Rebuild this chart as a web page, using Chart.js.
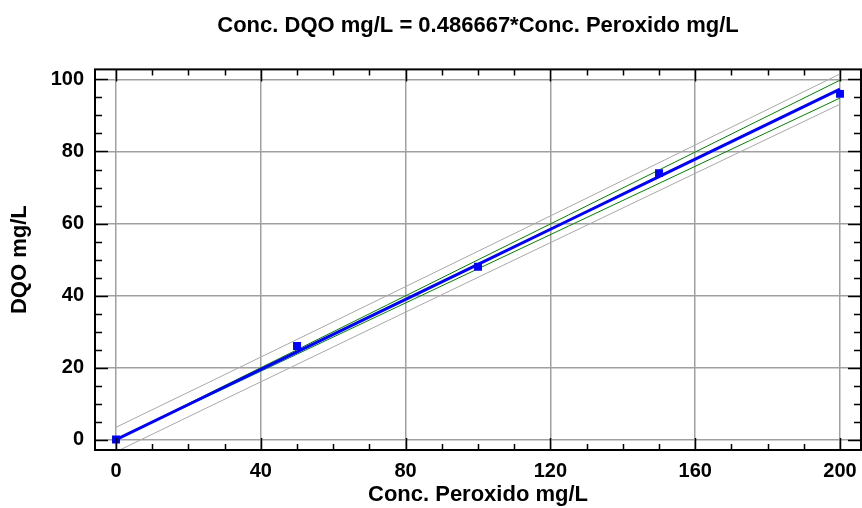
<!DOCTYPE html>
<html>
<head>
<meta charset="utf-8">
<script src="https://cdn.jsdelivr.net/npm/chart.js@4"></script>
<style>
html,body{margin:0;padding:0;background:#fff;}
#wrap{width:862px;height:508px;}
</style>
</head>
<body>
<div id="wrap"><canvas id="c" width="862" height="508"></canvas></div>
<script>
// Observed data
const obsX = [0, 50, 100, 150, 200];
const obsY = [0, 26, 48, 74, 96];
// Curves
const curveX = [0, 25, 50, 75, 100, 125, 150, 175, 200];
const fitY = [0, 12.17, 24.33, 36.5, 48.67, 60.83, 73, 85.17, 97.33];
const confUpper = [0, 12.48, 24.95, 37.43, 49.91, 62.38, 74.86, 87.34, 99.81];
const confLower = [0, 11.86, 23.71, 35.57, 47.43, 59.28, 71.14, 83.0, 94.85];
const predUpper = [3.40, 15.58, 27.79, 40.03, 52.29, 64.57, 76.88, 89.21, 101.54];
const predLower = [-3.40, 8.76, 20.87, 32.98, 45.05, 57.09, 69.12, 81.14, 93.12];
// Tick labels
const xTicks = [0, 40, 80, 120, 160, 200];
const yTicks = [0, 20, 40, 60, 80, 100];
const xMinorStep = 10;
const yMinorStep = 5;

const toPts = (xs, ys) => xs.map((x, i) => ({x: x, y: ys[i]}));
const FONT = "'Liberation Sans', Arial, sans-serif";

const framePlugin = {
  id: 'frame',
  afterDraw(chart) {
    const ctx = chart.ctx;
    const a = chart.chartArea;
    const xs = chart.scales.x, ys = chart.scales.y;
    ctx.save();
    ctx.strokeStyle = '#000';
    ctx.lineWidth = 1.5;
    ctx.beginPath();
    for (let v = 0; v <= 200 + 1e-9; v += xMinorStep) {
      const px = Math.round(xs.getPixelForValue(v)) + 0.5;
      const major = xTicks.includes(v);
      const len = major ? 12 : 6;
      ctx.moveTo(px, a.bottom); ctx.lineTo(px, a.bottom - len);
      ctx.moveTo(px, a.top); ctx.lineTo(px, a.top + len);
    }
    for (let v = 0; v <= 100 + 1e-9; v += yMinorStep) {
      const py = Math.round(ys.getPixelForValue(v)) + 0.5;
      const major = yTicks.includes(v);
      const len = major ? 13 : 7;
      ctx.moveTo(a.left, py); ctx.lineTo(a.left + len, py);
      ctx.moveTo(a.right, py); ctx.lineTo(a.right - len, py);
    }
    ctx.stroke();
    ctx.lineWidth = 2;
    ctx.strokeRect(a.left, a.top, a.right - a.left, a.bottom - a.top);
    ctx.restore();
  }
};

new Chart(document.getElementById('c'), {
  type: 'scatter',
  data: {
    datasets: [
      {label: 'obs', data: toPts(obsX, obsY), pointStyle: 'rect', pointRadius: 5.6,
       backgroundColor: '#0000ff', borderWidth: 0, order: 0, showLine: false},
      {label: 'fit', data: toPts(curveX, fitY), showLine: true, borderColor: '#0000ff',
       borderWidth: 3, pointRadius: 0, order: 1},
      {label: 'cu', data: toPts(curveX, confUpper), showLine: true, borderColor: '#008000',
       borderWidth: 1, pointRadius: 0, order: 2},
      {label: 'cl', data: toPts(curveX, confLower), showLine: true, borderColor: '#008000',
       borderWidth: 1, pointRadius: 0, order: 2},
      {label: 'pu', data: toPts(curveX, predUpper), showLine: true, borderColor: '#a8a8a8',
       borderWidth: 1, pointRadius: 0, order: 3},
      {label: 'pl', data: toPts(curveX, predLower), showLine: true, borderColor: '#a8a8a8',
       borderWidth: 1, pointRadius: 0, order: 3}
    ]
  },
  options: {
    responsive: false,
    animation: false,
    devicePixelRatio: 1,
    layout: {autoPadding: false, padding: {left: 0, right: 1, top: 0, bottom: 0}},
    plugins: {
      legend: {display: false},
      tooltip: {enabled: false},
      title: {
        display: true,
        fullSize: false,
        text: 'Conc. DQO mg/L = 0.486667*Conc. Peroxido mg/L',
        color: '#000',
        font: {family: FONT, size: 22, weight: 'bold'},
        padding: {top: 13, bottom: 30}
      }
    },
    scales: {
      x: {
        type: 'linear', min: -5.8, max: 205.8,
        afterBuildTicks: s => { s.ticks = xTicks.map(v => ({value: v})); },
        afterFit: s => { s.height = 58; s.paddingLeft = 0; s.paddingRight = 0; },
        grid: {color: '#a0a0a0', lineWidth: 1.5, drawTicks: false},
        border: {display: false},
        ticks: {color: '#000', font: {family: FONT, size: 20, weight: 'bold'}, padding: 9,
                maxRotation: 0, autoSkip: false},
        title: {display: true, text: 'Conc. Peroxido mg/L', color: '#000',
                font: {family: FONT, size: 22, weight: 'bold'}, padding: {top: 0, bottom: 0}}
      },
      y: {
        type: 'linear', min: -2.9, max: 102.8,
        afterBuildTicks: s => { s.ticks = yTicks.map(v => ({value: v})); },
        afterFit: s => { s.width = 95; s.paddingTop = 0; s.paddingBottom = 0; },
        grid: {color: '#a0a0a0', lineWidth: 1.5, drawTicks: false},
        border: {display: false},
        ticks: {color: '#000', font: {family: FONT, size: 20, weight: 'bold'}, padding: 11,
                autoSkip: false},
        title: {display: true, text: 'DQO mg/L', color: '#000',
                font: {family: FONT, size: 22, weight: 'bold'}, padding: {top: 7, bottom: 0}}
      }
    }
  },
  plugins: [framePlugin]
});
</script>
</body>
</html>
